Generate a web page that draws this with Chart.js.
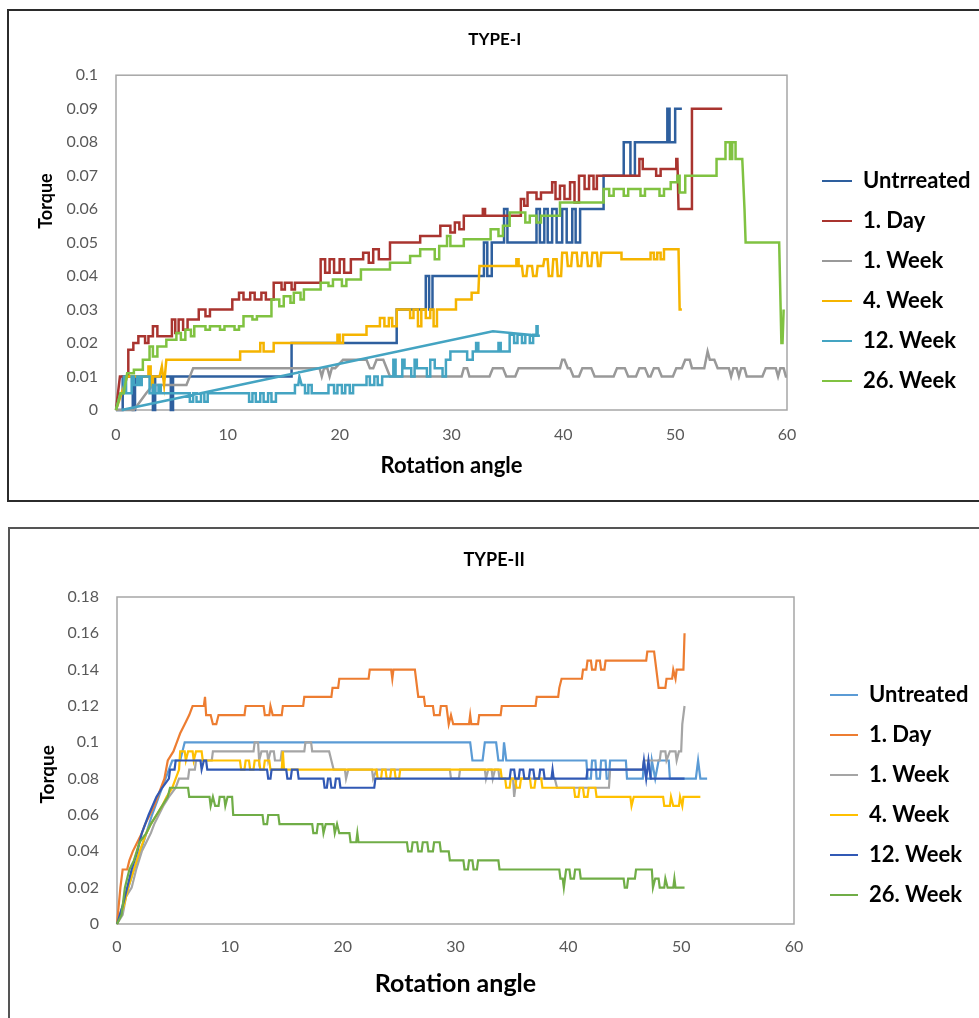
<!DOCTYPE html>
<html>
<head>
<meta charset="utf-8">
<title>Torque vs rotation angle</title>
<script src="https://cdn.jsdelivr.net/npm/chart.js@4.4.1/dist/chart.umd.min.js"></script>
<style>
  body { margin: 0; background: #fff; overflow: hidden; width: 979px; height: 1018px; position: relative; }
  .box { position: absolute; box-sizing: border-box; }
  #box1 { left: 7px; top: 9px; width: 1000px; height: 493px; border: 2px solid #2b2b2b; }
  #box2 { left: 8px; top: 527px; width: 1000px; height: 520px; border: 2px solid #555; }
  canvas { position: absolute; }
  #chart1 { left: 9px; top: 11px; }
  #chart2 { left: 10px; top: 530px; }
</style>
</head>
<body>
<div class="box" id="box1"></div>
<div class="box" id="box2"></div>
<canvas id="chart1" width="970" height="488"></canvas>
<canvas id="chart2" width="969" height="488"></canvas>
<script>
'use strict';
// ---------- Global variables ------------- //
const FONT = 'Lato, "Open Sans", sans-serif';

let namesType1 = ['Untrreated', '1. Day', '1. Week', '4. Week', '12. Week', '26. Week'];
let namesType2 = ['Untreated', '1. Day', '1. Week', '4. Week', '12. Week', '26. Week'];
let xTicks = [0, 10, 20, 30, 40, 50, 60];
let yTicks1 = [0, 0.01, 0.02, 0.03, 0.04, 0.05, 0.06, 0.07, 0.08, 0.09, 0.1];
let yTicks2 = [0, 0.02, 0.04, 0.06, 0.08, 0.1, 0.12, 0.14, 0.16, 0.18];

// TYPE-I  [rotation angle, torque]
let t1Untreated = [[0,0],[0.6,0],[0.6,0.01],[1.5,0.01],[1.5,0],[1.7,0],[1.7,0.01],[3.3,0.01],[3.3,0],[3.5,0],[3.5,0.01],[4.9,0.01],[4.9,0],[5.1,0],[5.1,0.01],[15.7,0.01],[15.7,0.02],[25.1,0.02],[25.1,0.03],[27.7,0.03],[27.7,0.04],[28.0,0.04],[28.0,0.03],[28.3,0.03],[28.3,0.04],[32.9,0.04],[32.9,0.05],[33.2,0.05],[33.2,0.04],[33.6,0.04],[33.6,0.05],[34.7,0.05],[34.7,0.06],[35.0,0.06],[35.0,0.05],[37.6,0.05],[37.6,0.06],[37.9,0.06],[37.9,0.05],[38.3,0.05],[38.3,0.06],[38.6,0.06],[38.6,0.05],[39.0,0.05],[39.0,0.06],[39.4,0.06],[39.4,0.05],[39.9,0.05],[39.9,0.06],[40.3,0.06],[40.3,0.05],[40.8,0.05],[40.8,0.06],[41.1,0.06],[41.1,0.05],[41.5,0.05],[41.5,0.06],[43.6,0.06],[43.6,0.07],[45.4,0.07],[45.4,0.08],[46.0,0.08],[46.0,0.07],[46.4,0.07],[46.4,0.08],[49.3,0.08],[49.3,0.09],[49.5,0.09],[49.5,0.08],[50.0,0.08],[50.0,0.09],[50.6,0.09]];
let t1Day1 = [[0,0],[0.35,0.01],[1.1,0.01],[1.1,0.018],[1.55,0.018],[1.55,0.02],[2.0,0.02],[2.0,0.022],[2.6,0.022],[2.6,0.02],[2.9,0.02],[2.9,0.022],[3.3,0.022],[3.3,0.025],[3.7,0.025],[3.7,0.022],[5.0,0.022],[5.0,0.027],[5.3,0.027],[5.3,0.023],[5.6,0.023],[5.6,0.027],[6.0,0.027],[6.0,0.024],[6.4,0.024],[6.4,0.027],[7.4,0.027],[7.4,0.03],[8.0,0.03],[8.0,0.028],[8.4,0.028],[8.4,0.03],[10.4,0.03],[10.4,0.033],[11.0,0.033],[11.0,0.035],[11.4,0.035],[11.4,0.033],[12.0,0.033],[12.0,0.035],[12.4,0.035],[12.4,0.033],[13.0,0.033],[13.0,0.035],[13.4,0.035],[13.4,0.033],[14.1,0.033],[14.1,0.038],[14.8,0.038],[14.8,0.036],[15.1,0.036],[15.1,0.038],[15.7,0.038],[15.7,0.036],[16.0,0.036],[16.0,0.038],[18.3,0.038],[18.3,0.045],[18.7,0.045],[18.7,0.041],[19.1,0.041],[19.1,0.045],[19.5,0.045],[19.5,0.041],[20.0,0.041],[20.0,0.045],[20.4,0.045],[20.4,0.041],[21.0,0.041],[21.0,0.045],[22.1,0.045],[22.1,0.047],[22.6,0.047],[22.6,0.044],[23.0,0.044],[23.0,0.048],[23.5,0.048],[23.5,0.045],[24.5,0.045],[24.5,0.05],[27.2,0.05],[27.2,0.052],[29.0,0.052],[29.0,0.055],[29.9,0.055],[29.9,0.053],[30.3,0.053],[30.3,0.056],[30.7,0.056],[30.7,0.054],[31.1,0.054],[31.1,0.058],[32.8,0.058],[32.8,0.06],[33.0,0.06],[33.0,0.058],[36.2,0.058],[36.2,0.063],[36.5,0.063],[36.5,0.061],[36.8,0.061],[36.8,0.065],[37.6,0.065],[37.6,0.063],[38.0,0.063],[38.0,0.065],[39.0,0.065],[39.0,0.068],[39.3,0.068],[39.3,0.063],[39.7,0.063],[39.7,0.067],[40.1,0.067],[40.1,0.063],[40.6,0.063],[40.6,0.068],[41.0,0.068],[41.0,0.062],[41.4,0.062],[41.4,0.07],[41.9,0.07],[41.9,0.066],[42.3,0.066],[42.3,0.07],[42.7,0.07],[42.7,0.066],[43.0,0.066],[43.0,0.07],[46.8,0.07],[46.8,0.075],[47.1,0.075],[47.1,0.072],[48.3,0.072],[48.3,0.07],[48.7,0.07],[48.7,0.072],[50.1,0.072],[50.1,0.075],[50.2,0.075],[50.3,0.06],[51.5,0.06],[51.5,0.09],[54.2,0.09]];
let t1Week1 = [[0,0],[1.6,0],[2.7,0.005],[3.3,0.0075],[6.3,0.0075],[6.9,0.0125],[18.2,0.0125],[18.4,0.01],[18.6,0.0125],[18.9,0.0125],[19.1,0.01],[19.3,0.0125],[19.6,0.0125],[20.3,0.015],[22.4,0.015],[22.7,0.0125],[23.0,0.0125],[23.3,0.015],[23.9,0.015],[24.5,0.01],[30.9,0.01],[31.1,0.0125],[31.4,0.0125],[31.6,0.01],[33.4,0.01],[33.7,0.0125],[34.6,0.0125],[34.9,0.01],[35.7,0.01],[36.0,0.0125],[39.7,0.0125],[39.9,0.015],[40.1,0.015],[40.4,0.0125],[40.6,0.0125],[40.9,0.01],[41.4,0.01],[41.7,0.0125],[42.5,0.0125],[42.8,0.01],[44.5,0.01],[44.8,0.0125],[45.5,0.0125],[45.8,0.01],[46.5,0.01],[46.8,0.0125],[47.3,0.0125],[47.6,0.01],[47.8,0.01],[48.1,0.0125],[48.5,0.0125],[48.8,0.01],[49.8,0.01],[50.1,0.0125],[50.6,0.0125],[50.9,0.015],[51.3,0.015],[51.5,0.0125],[52.6,0.0125],[52.9,0.0175],[53.1,0.015],[53.5,0.015],[53.8,0.0125],[54.8,0.0125],[55.0,0.01],[55.2,0.0125],[55.5,0.0125],[55.7,0.01],[55.9,0.0125],[56.2,0.0125],[56.4,0.01],[57.8,0.01],[58.1,0.0125],[59.0,0.0125],[59.2,0.01],[59.4,0.0125],[59.7,0.0125],[59.9,0.01],[60,0.01]];
let t1Week4 = [[0,0],[0.5,0.005],[1.0,0.01],[2.9,0.01],[2.9,0.013],[3.1,0.013],[3.1,0.0075],[3.3,0.0075],[3.3,0.01],[3.9,0.01],[4.1,0.013],[4.3,0.0075],[4.5,0.015],[11.1,0.015],[11.1,0.0175],[12.9,0.0175],[12.9,0.02],[13.2,0.02],[13.2,0.0175],[14.1,0.0175],[14.1,0.02],[19.8,0.02],[19.8,0.0225],[20.0,0.0225],[20.0,0.02],[20.3,0.02],[20.3,0.0225],[22.4,0.0225],[22.4,0.025],[23.6,0.025],[23.6,0.0275],[24.0,0.0275],[24.0,0.025],[24.4,0.025],[24.4,0.0275],[24.7,0.0275],[24.7,0.025],[25.1,0.025],[25.1,0.03],[26.3,0.03],[26.3,0.0275],[26.6,0.0275],[26.6,0.03],[27.0,0.03],[27.0,0.025],[27.3,0.025],[27.3,0.03],[27.7,0.03],[27.7,0.0275],[28.1,0.0275],[28.1,0.03],[28.4,0.03],[28.4,0.025],[28.7,0.025],[28.7,0.03],[30.4,0.03],[30.4,0.033],[31.8,0.033],[31.8,0.035],[32.4,0.035],[32.5,0.043],[35.8,0.043],[35.8,0.045],[36.0,0.045],[36.0,0.043],[36.3,0.043],[36.4,0.04],[36.7,0.04],[36.8,0.043],[37.2,0.043],[37.3,0.04],[37.6,0.04],[37.7,0.043],[38.2,0.043],[38.3,0.045],[38.6,0.045],[38.7,0.04],[39.0,0.04],[39.1,0.045],[39.4,0.045],[39.5,0.04],[39.8,0.04],[39.9,0.047],[40.3,0.047],[40.4,0.043],[40.7,0.043],[40.8,0.047],[41.2,0.047],[41.3,0.043],[41.6,0.043],[41.7,0.047],[42.1,0.047],[42.2,0.043],[42.5,0.043],[42.6,0.047],[43.0,0.047],[43.1,0.043],[43.3,0.043],[43.4,0.047],[45.2,0.047],[45.2,0.045],[47.8,0.045],[47.8,0.047],[48.1,0.047],[48.1,0.045],[48.4,0.045],[48.4,0.047],[48.7,0.047],[48.7,0.045],[49.0,0.045],[49.0,0.048],[50.3,0.048],[50.4,0.03],[50.6,0.03]];
let t1Week12 = [[0,0],[0.4,0.005],[0.7,0.005],[0.7,0.01],[0.9,0.01],[0.9,0.005],[1.4,0.005],[1.4,0.01],[1.6,0.01],[1.6,0.0075],[1.9,0.0075],[1.9,0.01],[2.1,0.01],[2.1,0.0075],[2.3,0.0075],[2.3,0.01],[3.0,0.01],[3.0,0.005],[3.3,0.005],[3.3,0.0075],[3.5,0.0075],[3.5,0.005],[3.8,0.005],[3.8,0.0075],[4.0,0.0075],[4.0,0.005],[6.6,0.005],[6.6,0.0025],[6.9,0.0025],[6.9,0.005],[7.2,0.005],[7.2,0.0025],[7.6,0.0025],[7.6,0.005],[7.9,0.005],[7.9,0.0025],[8.2,0.0025],[8.2,0.005],[11.9,0.005],[11.9,0.0025],[12.2,0.0025],[12.2,0.005],[12.5,0.005],[12.5,0.0025],[12.9,0.0025],[12.9,0.005],[13.2,0.005],[13.2,0.0025],[13.6,0.0025],[13.6,0.005],[13.9,0.005],[13.9,0.0025],[14.3,0.0025],[14.3,0.005],[16.0,0.005],[16.0,0.0075],[16.3,0.0075],[16.4,0.01],[16.6,0.0075],[16.9,0.0075],[16.9,0.005],[17.2,0.005],[17.2,0.0075],[17.5,0.0075],[17.5,0.005],[19.0,0.005],[19.0,0.0075],[19.5,0.0075],[19.5,0.005],[19.8,0.005],[19.8,0.0075],[20.2,0.0075],[20.2,0.005],[20.5,0.005],[20.5,0.0075],[20.9,0.0075],[20.9,0.005],[21.2,0.005],[21.2,0.0075],[22.4,0.0075],[22.4,0.01],[22.7,0.01],[22.7,0.0075],[23.1,0.0075],[23.1,0.01],[23.4,0.01],[23.4,0.0075],[23.8,0.0075],[23.8,0.01],[24.8,0.01],[24.8,0.015],[25.0,0.015],[25.0,0.01],[25.6,0.01],[25.6,0.015],[25.8,0.015],[25.8,0.0125],[26.4,0.0125],[26.4,0.01],[26.7,0.01],[26.7,0.015],[26.9,0.015],[26.9,0.0125],[27.8,0.0125],[27.8,0.01],[28.1,0.01],[28.1,0.015],[28.5,0.015],[28.5,0.0125],[29.2,0.0125],[29.2,0.01],[29.5,0.01],[29.5,0.015],[29.9,0.015],[29.9,0.0175],[31.4,0.0175],[31.4,0.015],[31.9,0.015],[31.9,0.0175],[32.2,0.0175],[32.2,0.02],[32.4,0.02],[32.4,0.0175],[34.2,0.0175],[34.2,0.02],[34.4,0.02],[34.4,0.0175],[35.2,0.0175],[35.2,0.0225],[35.6,0.0225],[35.6,0.02],[35.9,0.02],[35.9,0.0225],[36.3,0.0225],[36.3,0.02],[36.6,0.02],[36.6,0.0225],[37.0,0.0225],[37.0,0.02],[37.3,0.02],[37.3,0.0225],[37.6,0.0225],[37.6,0.025],[37.7,0.025],[37.7,0.0222],[37.9,0.0222],[33.7,0.0235],[0.5,0]];
let t1Week26 = [[0,0],[0.4,0.005],[0.7,0.005],[1.0,0.011],[1.6,0.011],[1.6,0.012],[2.4,0.012],[2.4,0.015],[3.0,0.015],[3.0,0.019],[3.3,0.019],[3.3,0.016],[3.7,0.016],[3.7,0.019],[4.5,0.019],[4.5,0.021],[5.4,0.021],[5.4,0.023],[5.8,0.023],[5.8,0.021],[6.2,0.021],[6.2,0.024],[6.7,0.024],[6.7,0.022],[7.0,0.022],[7.0,0.025],[8.0,0.025],[8.0,0.024],[8.4,0.024],[8.4,0.025],[9.3,0.025],[9.3,0.024],[9.7,0.024],[9.7,0.025],[10.6,0.025],[10.6,0.024],[11.0,0.024],[11.0,0.025],[11.4,0.025],[11.4,0.028],[12.2,0.028],[12.2,0.027],[12.6,0.027],[12.6,0.028],[13.9,0.028],[13.9,0.033],[14.6,0.033],[14.6,0.031],[15.0,0.031],[15.0,0.034],[15.6,0.034],[15.6,0.032],[15.9,0.032],[15.9,0.035],[16.5,0.035],[16.5,0.033],[16.8,0.033],[16.8,0.036],[18.3,0.036],[18.3,0.038],[19.0,0.038],[19.0,0.037],[19.4,0.037],[19.4,0.039],[20.2,0.039],[20.2,0.037],[20.6,0.037],[20.6,0.039],[21.9,0.039],[21.9,0.042],[24.5,0.042],[24.5,0.044],[26.3,0.044],[26.3,0.046],[27.2,0.046],[27.2,0.048],[28.5,0.048],[28.5,0.045],[28.9,0.045],[28.9,0.049],[29.6,0.049],[29.6,0.052],[29.9,0.052],[29.9,0.049],[31.1,0.049],[31.1,0.051],[33.5,0.051],[33.5,0.054],[34.2,0.054],[34.2,0.052],[34.6,0.052],[34.6,0.055],[35.2,0.055],[35.2,0.059],[36.6,0.059],[36.6,0.056],[37.0,0.056],[37.0,0.058],[37.6,0.058],[37.6,0.056],[38.0,0.056],[38.0,0.058],[39.7,0.058],[39.7,0.062],[43.6,0.062],[43.6,0.066],[44.1,0.066],[44.1,0.064],[44.5,0.064],[44.5,0.066],[45.4,0.066],[45.4,0.064],[45.8,0.064],[45.8,0.066],[46.9,0.066],[46.9,0.064],[47.3,0.064],[47.3,0.066],[48.6,0.066],[48.6,0.064],[49.0,0.064],[49.0,0.066],[49.6,0.066],[49.6,0.068],[50.2,0.068],[50.2,0.07],[50.4,0.07],[50.4,0.065],[50.9,0.065],[50.9,0.07],[53.7,0.07],[53.7,0.075],[54.5,0.075],[54.5,0.08],[54.9,0.08],[54.9,0.075],[55.1,0.075],[55.1,0.08],[55.4,0.08],[55.4,0.075],[56.0,0.075],[56.2,0.06],[56.3,0.05],[59.3,0.05],[59.5,0.02],[59.6,0.02],[59.7,0.03]];

// TYPE-II  [rotation angle, torque]
let t2Untreated = [[0,0],[0.5,0.01],[1.0,0.02],[1.5,0.03],[2.1,0.04],[2.6,0.05],[3.1,0.06],[3.7,0.07],[4.3,0.08],[4.9,0.09],[5.6,0.09],[6.0,0.1],[31.3,0.1],[31.5,0.09],[32.4,0.09],[32.6,0.1],[33.6,0.1],[33.8,0.09],[34.2,0.09],[34.3,0.1],[34.5,0.09],[41.6,0.09],[41.7,0.08],[42.0,0.08],[42.1,0.09],[42.4,0.09],[42.5,0.08],[42.8,0.08],[42.9,0.09],[43.3,0.09],[43.4,0.08],[43.6,0.08],[43.7,0.09],[45.1,0.09],[45.2,0.08],[46.6,0.08],[46.7,0.09],[46.9,0.08],[47.3,0.08],[47.4,0.09],[47.7,0.08],[48.0,0.09],[48.9,0.09],[49.0,0.08],[51.3,0.08],[51.5,0.09],[51.7,0.08],[52.3,0.08]];
let t2Day1 = [[0,0],[0.3,0.02],[0.5,0.03],[0.9,0.03],[1.1,0.035],[1.4,0.04],[1.8,0.045],[2.2,0.05],[2.5,0.055],[2.9,0.06],[3.3,0.065],[3.6,0.07],[3.9,0.075],[4.2,0.08],[4.5,0.09],[5.0,0.095],[5.3,0.1],[5.6,0.105],[6.0,0.11],[6.4,0.115],[6.7,0.12],[7.7,0.12],[7.8,0.125],[7.9,0.115],[8.3,0.115],[8.5,0.11],[8.8,0.11],[9.0,0.115],[11.3,0.115],[11.4,0.12],[13.0,0.12],[13.1,0.115],[13.5,0.115],[13.6,0.12],[13.8,0.115],[14.6,0.115],[14.7,0.12],[16.5,0.12],[16.6,0.125],[19.0,0.125],[19.1,0.13],[19.6,0.13],[19.7,0.135],[22.3,0.135],[22.4,0.14],[24.3,0.14],[24.4,0.135],[24.5,0.14],[26.4,0.14],[26.7,0.125],[27.2,0.125],[27.3,0.12],[28.0,0.12],[28.1,0.115],[28.6,0.115],[28.7,0.12],[29.2,0.12],[29.4,0.11],[29.6,0.115],[29.8,0.11],[31.2,0.11],[31.3,0.115],[31.4,0.11],[32.0,0.11],[32.1,0.115],[34.0,0.115],[34.1,0.12],[37.1,0.12],[37.2,0.125],[39.1,0.125],[39.2,0.13],[39.4,0.135],[41.2,0.135],[41.3,0.14],[41.6,0.14],[41.7,0.145],[42.0,0.145],[42.1,0.14],[42.4,0.14],[42.5,0.145],[42.8,0.145],[42.9,0.14],[43.2,0.14],[43.3,0.145],[46.9,0.145],[47.0,0.15],[47.6,0.15],[47.8,0.14],[48.0,0.13],[48.6,0.13],[48.7,0.135],[49.2,0.135],[49.3,0.14],[49.5,0.135],[49.6,0.14],[50.2,0.14],[50.3,0.16]];
let t2Week1 = [[0,0],[0.5,0.005],[0.8,0.015],[1.3,0.02],[1.7,0.03],[2.2,0.04],[2.6,0.045],[3.0,0.05],[3.3,0.055],[3.7,0.06],[4.1,0.065],[4.6,0.07],[5.2,0.075],[5.5,0.08],[6.3,0.08],[6.4,0.085],[6.9,0.085],[7.0,0.09],[8.4,0.09],[8.5,0.095],[12.1,0.095],[12.2,0.1],[12.5,0.1],[12.6,0.09],[12.8,0.095],[13.3,0.095],[13.4,0.09],[13.6,0.095],[13.9,0.095],[14.0,0.09],[14.5,0.09],[14.6,0.095],[16.6,0.095],[16.7,0.1],[17.2,0.1],[17.3,0.095],[18.8,0.095],[19.0,0.09],[19.2,0.085],[20.2,0.085],[20.3,0.08],[20.5,0.085],[22.6,0.085],[22.7,0.08],[23.0,0.085],[29.5,0.085],[29.6,0.08],[30.3,0.08],[30.4,0.085],[32.6,0.085],[32.7,0.08],[32.9,0.085],[33.2,0.085],[33.3,0.08],[33.5,0.085],[33.8,0.085],[33.9,0.08],[35.1,0.08],[35.2,0.07],[35.4,0.08],[38.8,0.08],[39.0,0.075],[43.6,0.075],[43.7,0.085],[46.6,0.085],[46.7,0.09],[48.1,0.09],[48.2,0.095],[48.6,0.095],[48.7,0.09],[49.0,0.095],[49.5,0.095],[49.6,0.09],[49.8,0.095],[50.0,0.095],[50.1,0.11],[50.3,0.12]];
let t2Week4 = [[0,0],[0.6,0.01],[1.0,0.02],[1.5,0.03],[2.0,0.04],[2.6,0.05],[3.0,0.055],[3.5,0.06],[4.0,0.065],[4.4,0.07],[4.9,0.075],[5.2,0.08],[5.5,0.085],[5.6,0.095],[6.0,0.095],[6.1,0.09],[6.3,0.095],[6.7,0.095],[6.8,0.09],[7.0,0.095],[7.5,0.095],[7.6,0.09],[10.9,0.09],[11.0,0.085],[11.3,0.085],[11.4,0.09],[11.7,0.09],[11.8,0.085],[12.1,0.085],[12.2,0.09],[12.6,0.09],[12.7,0.085],[13.0,0.085],[13.1,0.09],[13.5,0.09],[13.6,0.085],[14.6,0.085],[14.7,0.095],[14.8,0.085],[23.0,0.085],[23.1,0.08],[23.4,0.08],[23.5,0.085],[23.8,0.085],[23.9,0.08],[24.2,0.08],[24.3,0.085],[24.6,0.085],[24.7,0.08],[25.0,0.08],[25.1,0.085],[34.0,0.085],[34.1,0.08],[34.4,0.08],[34.5,0.075],[34.8,0.075],[34.9,0.08],[35.3,0.08],[35.4,0.075],[35.7,0.075],[35.8,0.08],[36.6,0.08],[36.7,0.075],[37.0,0.075],[37.1,0.08],[37.6,0.08],[37.7,0.075],[40.5,0.075],[40.6,0.07],[40.9,0.07],[41.0,0.075],[41.3,0.075],[41.4,0.07],[41.7,0.07],[41.8,0.075],[42.4,0.075],[42.5,0.07],[45.5,0.07],[45.6,0.065],[45.8,0.07],[48.4,0.07],[48.5,0.065],[49.0,0.065],[49.1,0.07],[49.3,0.065],[49.8,0.065],[49.9,0.07],[50.1,0.065],[50.2,0.07],[51.7,0.07]];
let t2Week12 = [[0,0],[0.5,0.01],[0.9,0.02],[1.3,0.03],[1.8,0.04],[2.2,0.05],[2.8,0.06],[3.5,0.07],[4.0,0.075],[4.6,0.08],[4.7,0.085],[5.1,0.085],[5.2,0.09],[7.4,0.09],[7.5,0.085],[7.7,0.09],[7.9,0.09],[8.0,0.085],[13.3,0.085],[13.4,0.08],[13.6,0.08],[13.7,0.085],[15.0,0.085],[15.1,0.08],[15.4,0.08],[15.5,0.085],[16.0,0.085],[16.1,0.08],[18.3,0.08],[18.4,0.075],[18.6,0.075],[18.7,0.08],[18.9,0.08],[19.0,0.075],[19.3,0.075],[19.4,0.08],[19.7,0.08],[19.8,0.075],[22.8,0.075],[22.9,0.08],[34.8,0.08],[34.9,0.085],[35.2,0.085],[35.3,0.08],[35.6,0.08],[35.7,0.085],[36.0,0.085],[36.1,0.08],[36.5,0.08],[36.6,0.085],[36.9,0.085],[37.0,0.08],[37.4,0.08],[37.5,0.085],[37.8,0.085],[37.9,0.08],[38.5,0.08],[38.6,0.085],[38.7,0.08],[41.6,0.08],[41.7,0.085],[46.6,0.085],[46.7,0.09],[46.9,0.08],[47.1,0.09],[47.3,0.08],[50.3,0.08]];
let t2Week26 = [[0,0],[0.4,0.005],[0.7,0.02],[1.1,0.03],[1.5,0.035],[2.0,0.045],[2.6,0.05],[3.0,0.055],[3.5,0.06],[4.0,0.065],[4.5,0.07],[4.7,0.075],[6.3,0.075],[6.4,0.07],[8.2,0.07],[8.3,0.065],[8.5,0.07],[8.7,0.065],[9.0,0.065],[9.1,0.07],[9.5,0.07],[9.6,0.065],[9.8,0.07],[10.2,0.07],[10.3,0.06],[12.9,0.06],[13.0,0.055],[13.3,0.055],[13.4,0.06],[14.3,0.06],[14.4,0.055],[17.3,0.055],[17.4,0.05],[17.7,0.05],[17.8,0.055],[18.2,0.055],[18.3,0.05],[18.5,0.055],[19.2,0.055],[19.3,0.05],[19.5,0.055],[19.7,0.05],[20.6,0.05],[20.7,0.045],[21.2,0.045],[21.3,0.05],[21.4,0.045],[25.7,0.045],[25.8,0.04],[26.1,0.04],[26.2,0.045],[26.6,0.045],[26.7,0.04],[27.0,0.04],[27.1,0.045],[27.5,0.045],[27.6,0.04],[28.0,0.04],[28.1,0.045],[28.6,0.045],[28.7,0.04],[29.4,0.04],[29.5,0.035],[30.7,0.035],[30.8,0.03],[31.1,0.03],[31.2,0.035],[31.5,0.035],[31.6,0.03],[31.9,0.03],[32.0,0.035],[33.8,0.035],[33.9,0.03],[39.2,0.03],[39.3,0.025],[39.5,0.025],[39.6,0.02],[39.8,0.03],[40.1,0.03],[40.2,0.025],[40.5,0.025],[40.6,0.03],[41.0,0.03],[41.1,0.025],[44.9,0.025],[45.0,0.02],[45.2,0.02],[45.3,0.025],[45.9,0.025],[46.0,0.03],[47.4,0.03],[47.5,0.02],[47.7,0.025],[48.0,0.025],[48.1,0.02],[48.5,0.02],[48.6,0.025],[48.8,0.02],[49.3,0.02],[49.4,0.025],[49.5,0.02],[50.3,0.02]];

let colorsType1 = ['#2e5f9e', '#a9342f', '#999999', '#f5b400', '#44a4c2', '#80c241'];
let colorsType2 = ['#5b9bd5', '#ed7d31', '#a5a5a5', '#ffc000', '#3159b5', '#70ad47'];

// ---------- Plugins ------------- //
// grey frame round the plot area, like the spreadsheet chart
let plotFrame = {
    id: 'plotFrame',
    beforeDatasetsDraw(chart){
        let a = chart.chartArea;
        let ctx = chart.ctx;
        ctx.save();
        ctx.lineWidth = 1.5;
        ctx.strokeStyle = '#a6a6a6';
        ctx.strokeRect(a.left, a.top, a.right - a.left, a.bottom - a.top);
        ctx.restore();
    }
};

// ---------- Global functions ------------- //
function tickLabel(v){
    return String(+Number(v).toFixed(3));
}

// the axis title is centred on the plot; blank padding moves it up (+) or down (-)
function shiftedTitle(ctx, text, font, shift){
    ctx.font = font;
    let space = ctx.measureText(' ').width;
    let n = Math.round(Math.abs(shift) * 2 / space);
    return shift > 0 ? ' '.repeat(n) + text : text + ' '.repeat(n);
}

function buildChart(canvasId, cfg){
    let canvas = document.getElementById(canvasId);
    let ctx = canvas.getContext('2d');

    // legend width, so the plot area ends where it should
    ctx.font = 'bold ' + cfg.legendSize + 'px ' + FONT;
    let textWidth = 0;
    for (let i = 0; i < cfg.names.length; i++){
        textWidth = Math.max(textWidth, ctx.measureText(cfg.names[i]).width);
    }
    let legendPad = cfg.rowGap - cfg.legendSize;
    let legendWidth = legendPad + cfg.boxWidth + cfg.legendSize / 2 + textWidth + 10;
    let padRight = canvas.width - cfg.plotRight - cfg.legendGap - legendWidth;
    let yTitle = shiftedTitle(ctx, 'Torque', 'bold ' + cfg.yTitleSize + 'px ' + FONT, cfg.yTitleShift);

    let datasets = [];
    for (let i = 0; i < cfg.series.length; i++){
        datasets.push({
            label: cfg.names[i],
            data: cfg.series[i],
            borderColor: cfg.colors[i],
            backgroundColor: cfg.colors[i],
            borderWidth: cfg.lineWidth,
            pointRadius: 0,
            pointHoverRadius: 0,
            showLine: true,
            tension: 0,
            clip: false,
            order: cfg.series.length - i
        });
    }

    let chartObject = {
        type: 'scatter',
        data: {datasets: datasets},
        options: {
            responsive: false,
            animation: false,
            events: [],
            devicePixelRatio: 1,
            layout: {padding: {left: 0, top: 0, bottom: 0, right: padRight}},
            scales: {
                x: {
                    type: 'linear',
                    min: 0,
                    max: 60,
                    grid: {display: false, drawTicks: false},
                    border: {display: false},
                    afterBuildTicks: s => { s.ticks = xTicks.map(v => ({value: v})); },
                    ticks: {
                        color: '#595959',
                        font: {family: FONT, size: cfg.tickSize},
                        padding: cfg.xTickPad,
                        maxRotation: 0,
                        autoSkip: false,
                        callback: tickLabel
                    },
                    title: {
                        display: true,
                        text: 'Rotation angle',
                        color: '#000',
                        font: {family: FONT, size: cfg.xTitleSize, weight: 'bold'},
                        padding: {top: 0, bottom: cfg.xTitlePad}
                    },
                    afterFit: s => { s.height = cfg.xAxisHeight; }
                },
                y: {
                    type: 'linear',
                    min: 0,
                    max: cfg.yTicks[cfg.yTicks.length - 1],
                    grid: {display: false, drawTicks: false},
                    border: {display: false},
                    afterBuildTicks: s => { s.ticks = cfg.yTicks.map(v => ({value: v})); },
                    ticks: {
                        color: '#595959',
                        font: {family: FONT, size: cfg.tickSize},
                        padding: 18,
                        autoSkip: false,
                        callback: tickLabel
                    },
                    title: {
                        display: true,
                        text: yTitle,
                        color: '#000',
                        font: {family: FONT, size: cfg.yTitleSize, weight: 'bold'},
                        padding: {top: cfg.yTitlePad, bottom: 0}
                    },
                    afterFit: s => { s.width = cfg.plotLeft; }
                },
                gap: {
                    type: 'linear',
                    position: 'right',
                    grid: {display: false, drawTicks: false},
                    border: {display: false},
                    ticks: {display: false},
                    afterFit: s => { s.width = cfg.legendGap; }
                }
            },
            plugins: {
                title: {
                    display: true,
                    text: cfg.title,
                    color: '#000',
                    font: {family: FONT, size: cfg.titleSize, weight: 'bold'},
                    padding: {top: cfg.titlePadTop, bottom: cfg.titlePadBottom}
                },
                legend: {
                    position: 'right',
                    align: 'end',
                    fullSize: false,
                    maxWidth: 500,
                    labels: {
                        boxWidth: cfg.boxWidth,
                        boxHeight: 2,
                        padding: legendPad,
                        color: '#000',
                        font: {family: FONT, size: cfg.legendSize, weight: 'bold'},
                        sort: (a, b) => a.datasetIndex - b.datasetIndex,
                        generateLabels: chart => Chart.defaults.plugins.legend.labels.generateLabels(chart)
                            .map(item => Object.assign(item, {lineWidth: 0}))
                    }
                },
                tooltip: {enabled: false}
            }
        },
        plugins: [plotFrame]
    };
    return new Chart(ctx, chartObject);
}

// ---------- Render ------------- //
buildChart('chart1', {
    title: 'TYPE-I',
    names: namesType1,
    series: [t1Untreated, t1Day1, t1Week1, t1Week4, t1Week12, t1Week26],
    colors: colorsType1,
    yTicks: yTicks1,
    lineWidth: 2.5,
    plotLeft: 107,
    plotRight: 778,
    titleSize: 17,
    titlePadTop: 18.8,
    titlePadBottom: 25,
    tickSize: 16,
    xTickPad: 15,
    xTitleSize: 22,
    xTitlePad: 20,
    xAxisHeight: 89,
    yTitleSize: 18,
    yTitlePad: 26.2,
    yTitleShift: 42,
    legendSize: 22,
    rowGap: 40,
    boxWidth: 30,
    legendGap: 17
});

buildChart('chart2', {
    title: 'TYPE-II',
    names: namesType2,
    series: [t2Untreated, t2Day1, t2Week1, t2Week4, t2Week12, t2Week26],
    colors: colorsType2,
    yTicks: yTicks2,
    lineWidth: 2.2,
    plotLeft: 107,
    plotRight: 784,
    titleSize: 18,
    titlePadTop: 19.2,
    titlePadBottom: 26.2,
    tickSize: 16,
    xTickPad: 13,
    xTitleSize: 25,
    xTitlePad: 19.5,
    xAxisHeight: 94,
    yTitleSize: 19,
    yTitlePad: 26.6,
    yTitleShift: -13,
    legendSize: 22,
    rowGap: 40,
    boxWidth: 28,
    legendGap: 18
});
</script>
</body>
</html>
